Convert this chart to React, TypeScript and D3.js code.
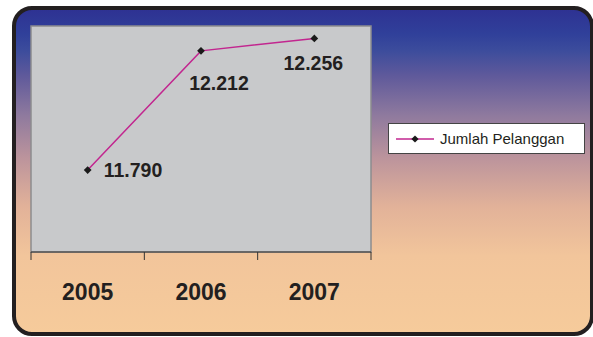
import React from "react";
import * as d3 from "d3";

const years = ["2005", "2006", "2007"];
const pelanggan = [11.79, 12.212, 12.256];
const valueLabels = ["11.790", "12.212", "12.256"];
const seriesName = "Jumlah Pelanggan";

const W = 593;
const H = 337;
const plot = { left: 31, top: 26, right: 371, bottom: 252 };

// label placement relative to each point
const labelOffsets = [
  { dx: 16, dy: 0, anchor: "start" },
  { dx: 18, dy: 32, anchor: "middle" },
  { dx: -1, dy: 25, anchor: "middle" },
];

export default function App() {
  const x = d3.scaleBand<string>().domain(years).range([plot.left, plot.right]);
  const y = d3.scaleLinear().domain([11.5, 12.3]).range([plot.bottom, plot.top]);
  const cx = (d: string) => (x(d) ?? 0) + x.bandwidth() / 2;

  const line = d3
    .line<number>()
    .x((_, i) => cx(years[i]))
    .y((v) => y(v));

  // square marker turned 45° gives an even diamond
  const marker = d3.symbol(d3.symbolSquare, 30)() ?? "";
  const legendMarker = d3.symbol(d3.symbolSquare, 26)() ?? "";
  const tickXs = [...years.map((d) => x(d) ?? 0), plot.right];

  const font = "Arial, 'Liberation Sans', Helvetica, sans-serif";

  return (
    <svg
      width={W}
      height={H}
      style={{ position: "absolute", left: 0, top: 0, display: "block" }}
      fontFamily={font}
    >
      <defs>
        <linearGradient id="bg" x1="0" y1="0" x2="0" y2="1">
          <stop offset="0" stopColor="#2e3192" />
          <stop offset="0.08" stopColor="#30409a" />
          <stop offset="0.13" stopColor="#3c4c9c" />
          <stop offset="0.21" stopColor="#605a9b" />
          <stop offset="0.33" stopColor="#8f7a9e" />
          <stop offset="0.46" stopColor="#bc949c" />
          <stop offset="0.61" stopColor="#e2b299" />
          <stop offset="0.76" stopColor="#f2c59b" />
          <stop offset="1" stopColor="#f6cb9b" />
        </linearGradient>
      </defs>
      <rect x={0} y={0} width={W} height={H} fill="#ffffff" />
      <rect
        x={14}
        y={8}
        width={578}
        height={326}
        rx={18}
        ry={18}
        fill="url(#bg)"
        stroke="#231f20"
        strokeWidth={4}
      />

      {/* plot area */}
      <rect
        x={plot.left}
        y={plot.top}
        width={plot.right - plot.left}
        height={plot.bottom - plot.top}
        fill="#c8c9cb"
        stroke="#8c8c8e"
        strokeWidth={1.5}
      />

      {/* category axis */}
      <line x1={plot.left} x2={plot.right} y1={plot.bottom} y2={plot.bottom} stroke="#333" strokeWidth={1} />
      {tickXs.map((tx, i) => (
        <line key={i} x1={tx} x2={tx} y1={plot.bottom} y2={plot.bottom + 8} stroke="#333" strokeWidth={1} />
      ))}
      {years.map((d) => (
        <text
          key={d}
          x={cx(d)}
          y={300}
          textAnchor="middle"
          fontSize={23}
          fontWeight="bold"
          fill="#231f20"
        >
          {d}
        </text>
      ))}

      {/* series */}
      <path d={line(pelanggan) ?? ""} fill="none" stroke="#c2268f" strokeWidth={1.5} />
      {pelanggan.map((v, i) => (
        <path
          key={i}
          d={marker}
          transform={`translate(${cx(years[i])},${y(v)}) rotate(45)`}
          fill="#1a1a1a"
        />
      ))}
      {pelanggan.map((v, i) => (
        <text
          key={i}
          x={cx(years[i]) + labelOffsets[i].dx}
          y={y(v) + labelOffsets[i].dy}
          dy="0.35em"
          textAnchor={labelOffsets[i].anchor as any}
          fontSize={19.5}
          fontWeight="bold"
          fill="#231f20"
        >
          {valueLabels[i]}
        </text>
      ))}

      {/* legend */}
      <rect x={388.5} y={123.5} width={196} height={30} fill="#ffffff" stroke="#444" strokeWidth={1} />
      <line x1={396} x2={434} y1={139} y2={139} stroke="#c2268f" strokeWidth={1.5} />
      <path d={legendMarker} transform="translate(415,139) rotate(45)" fill="#1a1a1a" />
      <text x={440} y={139} dy="0.35em" fontSize={15} fill="#231f20">
        {seriesName}
      </text>
    </svg>
  );
}
